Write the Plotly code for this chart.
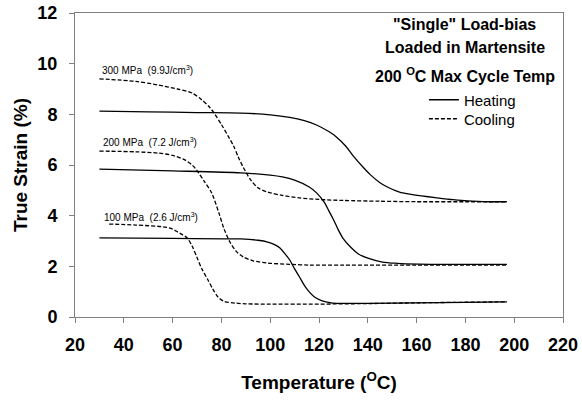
import plotly.graph_objects as go

# ---------------- data ----------------
t_300_heat = [30, 50, 70, 88, 100, 108, 114, 119, 124, 127, 131, 134, 138, 141, 145, 148, 153, 157, 162, 167, 175, 181, 190, 197]
s_300_heat = [8.13, 8.1, 8.07, 8.05, 7.98, 7.88, 7.75, 7.58, 7.32, 7.12, 6.74, 6.36, 5.92, 5.62, 5.3, 5.13, 4.93, 4.85, 4.78, 4.72, 4.63, 4.58, 4.55, 4.55]

t_300_cool = [30, 45, 54, 62, 68, 72, 75, 77, 80, 83, 85, 87, 89, 92, 95, 99, 105, 112, 120, 130, 145, 160, 180, 197]
s_300_cool = [9.4, 9.3, 9.16, 9.0, 8.84, 8.57, 8.3, 8.05, 7.6, 7.1, 6.75, 6.3, 5.9, 5.41, 5.1, 4.93, 4.8, 4.7, 4.64, 4.6, 4.57, 4.55, 4.55, 4.55]

t_200_heat = [30, 60, 88, 100, 105, 110, 116, 119, 122, 124, 126, 128, 130, 133, 136, 140, 146, 152, 161, 175, 197]
s_200_heat = [5.84, 5.77, 5.69, 5.6, 5.53, 5.4, 5.13, 4.9, 4.55, 4.2, 3.83, 3.42, 3.08, 2.75, 2.5, 2.32, 2.17, 2.12, 2.09, 2.08, 2.08]

t_200_cool = [30, 45, 54, 60, 65, 68, 70, 73, 76, 79, 81, 83.5, 86, 89, 93, 99, 108, 116, 130, 160, 197]
s_200_cool = [6.55, 6.52, 6.47, 6.38, 6.2, 6.0, 5.78, 5.35, 4.9, 4.1, 3.5, 2.96, 2.6, 2.37, 2.22, 2.13, 2.08, 2.05, 2.05, 2.05, 2.05]

t_100_heat = [30, 60, 88, 95, 99, 102, 104, 106, 108, 110, 112, 114, 116, 118, 121, 125, 129, 140, 160, 180, 197]
s_100_heat = [3.12, 3.1, 3.08, 3.03, 2.96, 2.85, 2.72, 2.5, 2.25, 1.9, 1.58, 1.25, 0.99, 0.8, 0.65, 0.56, 0.54, 0.54, 0.56, 0.58, 0.6]

t_100_cool = [34, 45, 57, 60, 62, 64, 66, 68, 70, 72, 74.5, 76.5, 78.6, 81, 85.6, 90, 100, 120, 140, 160, 197]
s_100_cool = [3.67, 3.63, 3.55, 3.47, 3.36, 3.25, 3.12, 2.8, 2.35, 1.9, 1.46, 1.1, 0.79, 0.62, 0.55, 0.52, 0.51, 0.51, 0.53, 0.56, 0.6]

load_labels = ["300 MPa  (9.9J/cm<sup>3</sup>)", "200 MPa  (7.2 J/cm<sup>3</sup>)", "100 MPa  (2.6 J/cm<sup>3</sup>)"]
label_x = [30.2, 30.5, 31]
label_y = [9.75, 6.9, 3.95]

info_lines = ['"Single" Load-bias', "Loaded in Martensite", "200 <sup>O</sup>C Max Cycle Temp"]
info_y = [11.53, 10.62, 9.55]

x_ticks = [20, 40, 60, 80, 100, 120, 140, 160, 180, 200, 220]
y_ticks = [0, 2, 4, 6, 8, 10, 12]

FONT = "Liberation Sans, Arial, sans-serif"

fig = go.Figure()

heat_sets = [(t_300_heat, s_300_heat), (t_200_heat, s_200_heat), (t_100_heat, s_100_heat)]
cool_sets = [(t_300_cool, s_300_cool), (t_200_cool, s_200_cool), (t_100_cool, s_100_cool)]

for i, (t, s) in enumerate(heat_sets):
    fig.add_trace(go.Scatter(x=t, y=s, mode="lines",
                             line=dict(color="black", width=1.3, shape="spline", smoothing=0.8),
                             name="Heating", legend="legend", showlegend=(i == 0)))
for i, (t, s) in enumerate(cool_sets):
    fig.add_trace(go.Scatter(x=t, y=s, mode="lines",
                             line=dict(color="black", width=1.3, dash="4px,2px", shape="spline", smoothing=0.8),
                             name="Cooling", legend="legend2", showlegend=(i == 0)))

for txt, x, y in zip(load_labels, label_x, label_y):
    fig.add_annotation(x=x, y=y, text=txt, showarrow=False, xanchor="left", yanchor="middle",
                       font=dict(family=FONT, size=10, color="black"))

for txt, y in zip(info_lines, info_y):
    fig.add_annotation(x=179.8, y=y, text="<b>" + txt + "</b>", showarrow=False, xanchor="center", yanchor="middle",
                       font=dict(family=FONT, size=16, color="black"))

axis_common = dict(showgrid=False, zeroline=False, showline=True, linecolor="#808080", linewidth=1,
                   mirror=True, ticks="outside", ticklen=5, tickcolor="#808080",
                   tickfont=dict(family=FONT, size=18, color="black"))

fig.update_xaxes(range=[20, 220], tickvals=x_ticks, ticktext=["<b>%d</b>" % v for v in x_ticks],
                 title=dict(text="<b>Temperature (<sup>O</sup>C)</b>", font=dict(family=FONT, size=19, color="black"), standoff=22),
                 ticklabelstandoff=6, **axis_common)
fig.update_yaxes(range=[0, 12], tickvals=y_ticks, ticktext=["<b>%d</b>" % v for v in y_ticks],
                 title=dict(text="<b>True Strain (%)</b>", font=dict(family=FONT, size=19, color="black"), standoff=4),
                 ticklabelstandoff=8, **axis_common)

leg_common = dict(xanchor="left", yanchor="middle", bgcolor="rgba(0,0,0,0)",
                  font=dict(family=FONT, size=15, color="black"), itemwidth=30)
fig.update_layout(
    width=582, height=400,
    margin=dict(l=75, r=19, t=13, b=83, autoexpand=False),
    plot_bgcolor="white", paper_bgcolor="white",
    font=dict(family=FONT, color="black"),
    legend=dict(x=0.715, y=(317 - 100) / 304, **leg_common),
    legend2=dict(x=0.715, y=(317 - 119) / 304, **leg_common),
)

fig.write_html("out.html", config={"displayModeBar": False},
               post_script="document.body.style.margin='0';")
